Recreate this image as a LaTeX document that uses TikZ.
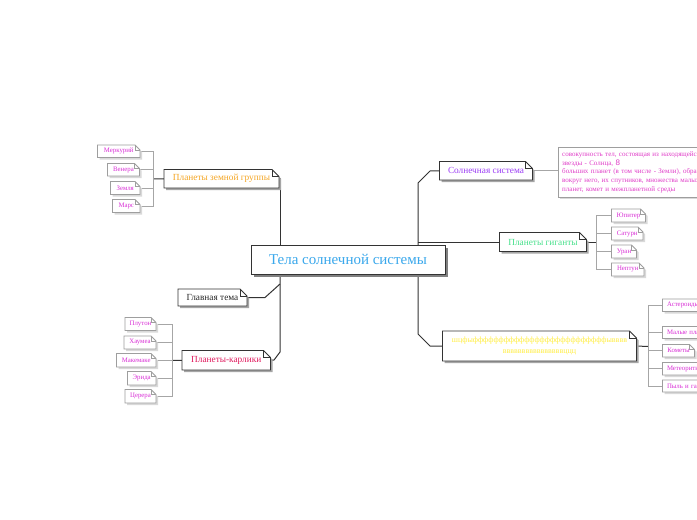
\documentclass[tikz,border=0pt]{standalone}
\usepackage{fontspec}
\setmainfont{Liberation Serif}
\newfontfamily\sansf{Liberation Sans}
\pgfdeclarelayer{bg}
\pgfdeclarelayer{conn}
\pgfdeclarelayer{boxes}
\pgfsetlayers{bg,conn,boxes,main}
\definecolor{cblue}{HTML}{3AA8EC}
\definecolor{corange}{HTML}{F5A623}
\definecolor{ccrimson}{HTML}{E0185C}
\definecolor{cpurple}{HTML}{9B3CF5}
\definecolor{cgreen}{HTML}{45E08A}
\definecolor{cyellow}{HTML}{FFEE44}
\definecolor{subm}{HTML}{D92ED6}
\definecolor{descm}{HTML}{E03CC8}
\tikzset{
  main border/.style={draw=black!80, line width=0.9pt},
  main shadow/.style={fill=black!35},
  sub border/.style={draw=black!38, line width=0.8pt},
  sub shadow/.style={fill=black!15},
  trunk/.style={draw=black!80, line width=1pt},
  subc/.style={draw=black!35, line width=0.8pt},
  maintext/.style={font=\fontsize{9.3}{11}\selectfont},
  subtext/.style={font=\fontsize{6.8}{8}\selectfont, text=subm},
  lefttext/.style={text width=\mmtw pt, align=left},
}
\def\mainear{7}
\def\subear{5}
% #1 name, #2 x1, #3 y1, #4 x2, #5 y2, #6 kind, #7 text style, #8 text
\newcommand\mmnode[8]{%
  \pgfmathsetmacro\mmw{#4-#2}%
  \pgfmathsetmacro\mmh{#5-#3}%
  \pgfmathsetmacro\mmtw{#4-#2-9}%
  \edef\mmear{\csname #6ear\endcsname}%
  \node[align=center, #7, inner sep=0pt, minimum width=\mmw pt, minimum height=\mmh pt] (#1) at ({(#2+#4)/2},{(#3+#5)/2}) {#8};
  \begin{pgfonlayer}{boxes}
    \fill[#6 shadow] (#2+2,#3+2) -- (#4-\mmear+2,#3+2) -- (#4+2,#3+\mmear+2) -- (#4+2,#5+2) -- (#2+2,#5+2) -- cycle;
    \filldraw[#6 border, fill=white] (#2,#3) -- (#4-\mmear,#3) -- (#4,#3+\mmear) -- (#4,#5) -- (#2,#5) -- cycle;
    \draw[#6 border, line width=0.6pt] (#4-\mmear,#3) -- (#4-\mmear,#3+\mmear) -- (#4,#3+\mmear);
  \end{pgfonlayer}}
\begin{document}
\begin{tikzpicture}[x=1pt,y=-1pt]
\useasboundingbox (0,0) rectangle (697,520);
\begin{pgfonlayer}{bg}
  \fill[white] (0,0) rectangle (697,520);
\end{pgfonlayer}
\clip (0,0) rectangle (697,520);

% central
\node[font=\fontsize{15}{17}\selectfont, text=cblue, minimum width=194pt, minimum height=29pt, inner sep=0pt] (c) at (348,259.5) {Тела солнечной системы};
\begin{pgfonlayer}{boxes}
  \fill[black!50] (254,248) rectangle (448,277);
  \filldraw[main border, fill=white] (251,245) rectangle (445,274);
\end{pgfonlayer}

% left: terrestrial
\mmnode{zg}{164}{169.5}{279}{188}{main}{maintext, text=corange}{Планеты земной группы}
\mmnode{mer}{97.5}{145}{140}{157.5}{sub}{subtext}{Меркурий}
\mmnode{ven}{107.5}{163.5}{139.5}{176}{sub}{subtext}{Венера}
\mmnode{zem}{110.5}{181.5}{140}{194.5}{sub}{subtext}{Земля}
\mmnode{mar}{112.5}{199.5}{140}{212.5}{sub}{subtext}{Марс}

% main theme
\mmnode{gl}{178}{289}{247}{306}{main}{maintext, text=black!85}{Главная тема}

% dwarf
\mmnode{kar}{182}{350.5}{270.5}{370}{main}{maintext, text=ccrimson}{Планеты-карлики}
\mmnode{plu}{125}{317.5}{156}{330.5}{sub}{subtext}{Плутон}
\mmnode{hau}{124}{336}{156}{349}{sub}{subtext}{Хаумеа}
\mmnode{mak}{116.5}{353.5}{156}{367}{sub}{subtext}{Макемаке}
\mmnode{eri}{127.5}{371.5}{156}{385}{sub}{subtext}{Эрида}
\mmnode{cer}{125}{389.5}{156}{403}{sub}{subtext}{Церера}

% right: solar system
\mmnode{ss}{439.5}{161.5}{532.5}{180}{main}{maintext, text=cpurple}{Солнечная система}
\node[anchor=north west, align=left, inner xsep=4pt, inner ysep=3.5pt, text width=220pt, minimum height=50pt,
      font=\fontsize{7}{8.75}\selectfont, text=descm] (desc) at (558,147)
  {совокупность тел, состоящая из находящейся в центре\\
   звезды - Солнца, {\sansf\fontsize{8}{8.75}\selectfont 8}\\
   больших планет (в том числе - Земли), обращающихся\\
   вокруг него, их спутников, множества малых\\
   планет, комет и межпланетной среды};
\begin{pgfonlayer}{boxes}
  \fill[sub shadow] ([shift={(2,2)}]desc.north west) rectangle ([shift={(2,2)}]desc.south east);
  \filldraw[sub border, fill=white] (desc.north west) rectangle (desc.south east);
\end{pgfonlayer}

% giants
\mmnode{gig}{499.5}{232.5}{586.5}{251.5}{main}{maintext, text=cgreen}{Планеты гиганты}
\mmnode{jup}{611.5}{209}{645.5}{222}{sub}{subtext}{Юпитер}
\mmnode{sat}{611.5}{227}{643}{240}{sub}{subtext}{Сатурн}
\mmnode{ura}{611.5}{245}{636.5}{258}{sub}{subtext}{Уран}
\mmnode{nep}{611.5}{263}{644}{276}{sub}{subtext}{Нептун}

% yellow
\mmnode{yl}{442.5}{331}{636.5}{361}{main}{font=\fontsize{8}{11.6}\selectfont, text=cyellow}{шцфыффффффффффффффффффффффффффывввв\\ввввввввввввввввццц}
\mmnode{ast}{662.5}{299}{718}{311.5}{sub}{subtext, lefttext}{Астероиды}
\mmnode{mal}{662.5}{326.5}{734}{338.5}{sub}{subtext, lefttext}{Малые планеты}
\mmnode{kom}{662.5}{344.5}{694.5}{357}{sub}{subtext}{Кометы}
\mmnode{met}{662.5}{362.5}{718}{375}{sub}{subtext, lefttext}{Метеориты}
\mmnode{pyl}{662.5}{380}{716}{392}{sub}{subtext, lefttext}{Пыль и газ}

% junctions
\coordinate (L) at (280,0);
\coordinate (R) at (418,0);
\coordinate (zgj) at (153.5,179);
\coordinate (karj) at (172,360.5);
\coordinate (gigj) at (596.5,242);
\coordinate (ylj) at (648,346.5);

\begin{pgfonlayer}{conn}
  % trunks
  \draw[trunk] (zg.east) -| (c.north -| L);
  \draw[trunk] (c.south -| L) -- (280,352) -- (274,360) -- (kar.east);
  \draw[trunk] (gl.east) -- (265,297.5) -- (280,284);
  \draw[trunk] (ss.west) -- (430,171) -- (418,183) -- (c.north -| R);
  \draw[trunk] (c.south -| R) -- (418,334) -- (430,346) -- (yl.west);
  \draw[trunk] (gig.west) -- (gig.west -| R);
  % sub junction stubs
  \draw[trunk] (zgj) -- (zg.west);
  \draw[trunk] (karj) -- (kar.west);
  \draw[trunk] (gig.east) -- (gigj);
  \draw[trunk] (yl.east) -- (ylj);
  % sub connectors
  \foreach \n in {mer,ven,zem,mar} \draw[subc] (\n.east) -| (zgj);
  \foreach \n in {plu,hau,mak,eri,cer} \draw[subc] (\n.east) -| (karj);
  \foreach \n in {jup,sat,ura,nep} \draw[subc] (\n.west) -| (gigj);
  \foreach \n in {ast,mal,kom,met,pyl} \draw[subc] (\n.west) -| (ylj);
  \draw[subc] (ss.east) -- (ss.east -| desc.west);
\end{pgfonlayer}
\end{tikzpicture}
\end{document}
